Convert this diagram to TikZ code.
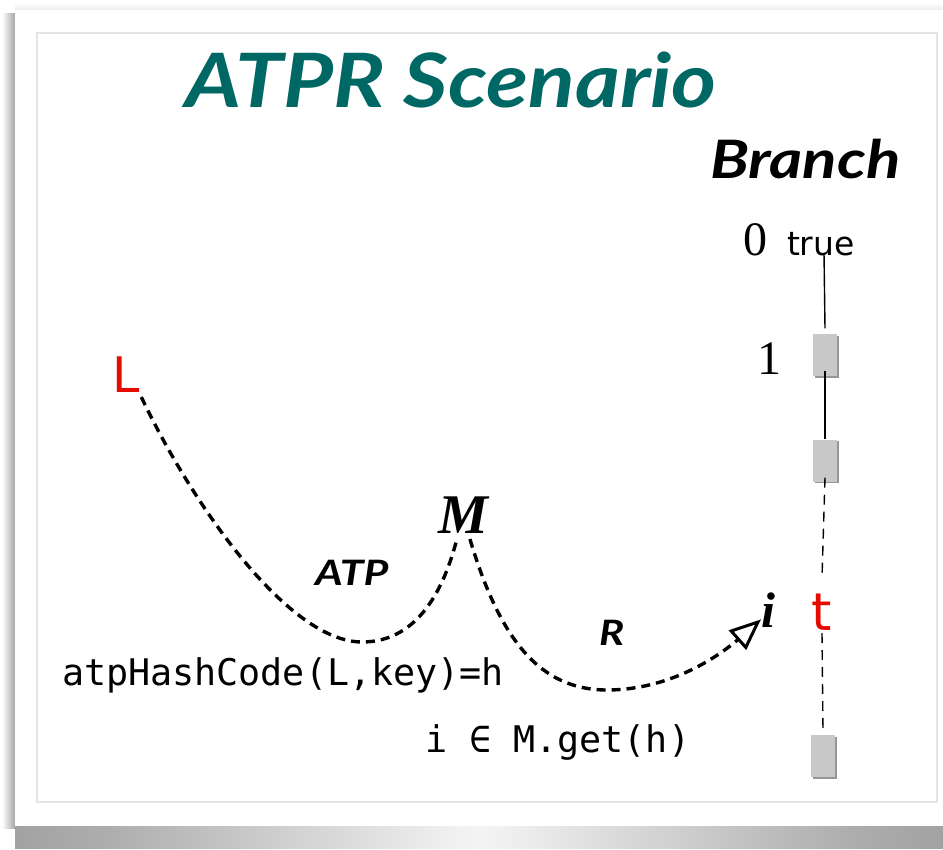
\documentclass[tikz,border=0pt]{standalone}
\usepackage{fontspec}
\usetikzlibrary{shadows}
\newfontfamily\latof{Lato}
\newfontfamily\serff{Liberation Serif}
\newfontfamily\monof{DejaVu Sans Mono}
\newfontfamily\dvsf{DejaVu Sans}
\definecolor{titleteal}{RGB}{0,104,100}
\definecolor{lred}{RGB}{228,12,0}
\definecolor{boxgray}{RGB}{200,200,200}
\definecolor{boxshadow}{RGB}{150,150,150}
\definecolor{framegray}{RGB}{228,228,228}
\pgfdeclarehorizontalshading{pgshadow}{100bp}{color(0bp)=(black!28); color(12bp)=(black!48); color(30bp)=(black!32); color(50bp)=(black!4); color(70bp)=(black!32); color(88bp)=(black!48); color(100bp)=(black!28)}
\begin{document}
\begin{tikzpicture}[x=1pt,y=-1pt,
  lbl/.style={inner sep=0pt, outer sep=0pt},
  curve/.style={line width=3.4pt, dash pattern=on 9pt off 6pt},
  vline/.style={line width=1.4pt},
  vdash/.style={line width=1.4pt, dash pattern=on 10pt off 7pt},
  branchbox/.style={fill=boxgray, minimum width=24pt, minimum height=42pt, inner sep=0pt,
     general shadow={fill=boxshadow, shadow xshift=1.6pt, shadow yshift=-1.6pt}},
  opentip/.style={line width=3pt, fill=white, line join=miter},
  titlefont/.style={font=\latof\bfseries\itshape\fontsize{75}{80}\selectfont},
  headfont/.style={font=\latof\bfseries\itshape\fontsize{53}{58}\selectfont},
  edgefont/.style={font=\latof\bfseries\itshape\fontsize{35}{40}\selectfont},
  codefont/.style={font=\monof\fontsize{36.7}{40}\selectfont},
  numfont/.style={font=\serff\fontsize{48}{52}\selectfont},
  varfont/.style={font=\serff\bfseries\itshape\fontsize{56}{60}\selectfont},
  ]
\useasboundingbox (0,0) rectangle (943,850);
% page background and shadows
\fill[white] (0,0) rectangle (943,850);
\shade[left color=white, right color=black!35] (2,14) rectangle (15,828);
\shade[top color=white, bottom color=black!7] (15,2) rectangle (943,10);
\shade[shading=pgshadow] (15,826) rectangle (943,848);
\fill[white] (15,10) rectangle (943,826);
\draw[framegray, line width=1.2pt] (37,33) rectangle (937,802);

% title
\node[lbl, titlefont, text=titleteal, anchor=base west] (title) at (185,108) {\scalebox{1.15}[1]{ATPR Scenario}};
\node[lbl, headfont, anchor=base west] (branch) at (710,179) {\scalebox{1.2}[1]{Branch}};

% branch column
\node[lbl, numfont, anchor=base west] (n0) at (743,256) {0};
\node[lbl, font=\dvsf\fontsize{33}{36}\selectfont, anchor=base west] (true) at (787,256) {true};
\node[lbl, numfont, anchor=base west] (n1) at (757,374) {1};
\coordinate (ttop) at (824,253);
\node[branchbox] (b1) at (825,355.5) {};
\node[branchbox] (b2) at (825,460.5) {};
\node[lbl, font=\dvsf\fontsize{52}{56}\selectfont, text=lred, anchor=base] (t) at (822,630) {t};
\node[branchbox] (b3) at (823,756) {};
\draw[vline] (ttop) -- ([yshift=6pt]b1.north);
\draw[vline] ([yshift=6pt]b1.south) -- (b2.north);
\draw[vdash] ([yshift=4pt]b2.south) -- ([yshift=16pt]t.north);
\draw[vdash] ([yshift=-3pt]t.south) -- ([yshift=4pt]b3.north);

% L, M, i
\node[lbl, font=\dvsf\fontsize{49}{52}\selectfont, text=lred, anchor=base west] (L) at (112,393) {L};
\node[lbl, varfont, anchor=base west] (M) at (438,533) {M};
\node[lbl, font=\serff\bfseries\itshape\fontsize{50}{54}\selectfont, anchor=base west] (i) at (761,627) {i};
\coordinate (itip) at (758,622);
\coordinate (ibase) at (738.5,639.2);
\coordinate (icorner1) at (745.8,647.4);
\coordinate (icorner2) at (731.2,631.0);

% curves
\draw[curve] ([xshift=2pt,yshift=-4pt]L.south east) .. controls (195,510) and (290,642) .. (362,642)
   .. controls (420,642) and (445,585) .. ([xshift=-6pt,yshift=-6pt]M.south);
\draw[curve]
   ([xshift=7pt,yshift=-6pt]M.south) .. controls (500,640) and (540,690) .. (607,690)
   .. controls (655,690) and (702,670) .. (ibase);
\draw[opentip] (itip) -- (icorner1) -- (icorner2) -- cycle;

% edge labels
\node[lbl, edgefont, anchor=base west] (atp) at (315,585) {\scalebox{1.22}[1]{ATP}};
\node[lbl, edgefont, anchor=base west] (r) at (599,645) {\scalebox{1.2}[1]{R}};

% code texts
\node[lbl, codefont, anchor=base west] (hash) at (62,685) {atpHashCode(L,key)=h};
\node[lbl, codefont, anchor=base west] (get) at (425,752) {i ∈ M.get(h)};
\end{tikzpicture}
\end{document}
